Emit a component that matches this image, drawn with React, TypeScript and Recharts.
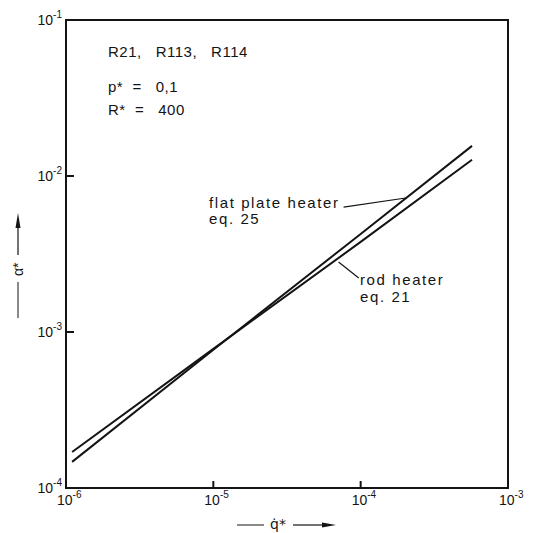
import React from "react";
import { LineChart, Line, XAxis, YAxis, ReferenceArea, ReferenceLine } from "recharts";

// Heat flux q* (x)
const qValues = [1.1e-6, 1e-5, 1e-4, 5.7e-4];
// alpha* for the flat plate heater (eq. 25)
const flatPlate = [1.47e-4, 7.7e-4, 4.25e-3, 1.56e-2];
// alpha* for the rod heater (eq. 21)
const rodHeater = [1.7e-4, 7.8e-4, 3.78e-3, 1.27e-2];

const xTicks = [1e-6, 1e-5, 1e-4, 1e-3];
const xTickExp = ["-6", "-5", "-4", "-3"];
const yTicks = [1e-4, 1e-3, 1e-2, 1e-1];
const yTickExp = ["-4", "-3", "-2", "-1"];

// leader lines of the labels (data coordinates)
const flatLeader = [
  { x: 7.66e-5, y: 6.32e-3 },
  { x: 2.02e-4, y: 7.23e-3 },
];
const rodLeader = [
  { x: 7.08e-5, y: 2.81e-3 },
  { x: 9.7e-5, y: 2.22e-3 },
];

const data = qValues.map((q, i) => ({ q, flat: flatPlate[i], rod: rodHeater[i] }));

const INK = "#141414";
const FONT = "'Liberation Sans', Arial, sans-serif";

const XTick = (props: any) => {
  const { x, y, payload } = props;
  const idx = xTicks.indexOf(payload.value);
  const inner = idx > 0 && idx < xTicks.length - 1;
  return (
    <g>
      {inner && (
        <path d={`M${x},${y} L${x},${y - 7}`} stroke={INK} strokeWidth={2} fill="none" />
      )}
      <text x={x - 9} y={y + 17} fontSize={14} fontFamily={FONT} fill={INK}>
        <tspan>10</tspan>
        <tspan dy={-7} fontSize={10}>{xTickExp[idx]}</tspan>
      </text>
    </g>
  );
};

const YTick = (props: any) => {
  const { x, y, payload } = props;
  const idx = yTicks.indexOf(payload.value);
  const inner = idx > 0 && idx < yTicks.length - 1;
  return (
    <g>
      {inner && (
        <path d={`M${x},${y} L${x + 8},${y}`} stroke={INK} strokeWidth={2} fill="none" />
      )}
      <text x={x - 4} y={y + 5} textAnchor="end" fontSize={14} fontFamily={FONT} fill={INK}>
        <tspan>10</tspan>
        <tspan dy={-7} fontSize={10}>{yTickExp[idx]}</tspan>
      </text>
    </g>
  );
};

export default function App() {
  return (
    <div style={{ position: "absolute", left: 0, top: 0, background: "#fff" }}>
      <LineChart
        width={533}
        height={533}
        data={data}
        margin={{ top: 20, right: 25, bottom: 0, left: 0 }}
      >
        <XAxis
          dataKey="q"
          type="number"
          scale="log"
          domain={[1e-6, 1e-3]}
          ticks={xTicks}
          height={45}
          tickSize={0}
          tickMargin={0}
          tick={<XTick />}
          tickLine={false}
          axisLine={{ stroke: INK, strokeWidth: 2 }}
          allowDataOverflow
        />
        <YAxis
          type="number"
          scale="log"
          domain={[1e-4, 1e-1]}
          ticks={yTicks}
          width={66}
          tickSize={0}
          tickMargin={0}
          tick={<YTick />}
          tickLine={false}
          axisLine={{ stroke: INK, strokeWidth: 2 }}
          allowDataOverflow
        />
        <ReferenceArea
          x1={1e-6}
          x2={1e-3}
          y1={1e-4}
          y2={1e-1}
          fill="none"
          fillOpacity={0}
          stroke={INK}
          strokeWidth={2}
          ifOverflow="visible"
        />
        <Line
          dataKey="flat"
          type="linear"
          stroke={INK}
          strokeWidth={2}
          dot={false}
          isAnimationActive={false}
        />
        <Line
          dataKey="rod"
          type="linear"
          stroke={INK}
          strokeWidth={2}
          dot={false}
          isAnimationActive={false}
        />
        <ReferenceLine segment={flatLeader} stroke={INK} strokeWidth={1.2} ifOverflow="visible" />
        <ReferenceLine segment={rodLeader} stroke={INK} strokeWidth={1.2} ifOverflow="visible" />

        <g fontFamily={FONT} fill={INK} fontSize={15} letterSpacing={0.5}>
          <text x={108} y={57} xmlSpace="preserve">R21,   R113,   R114</text>
          <text x={108} y={92} xmlSpace="preserve">p*  =   0,1</text>
          <text x={108} y={115} xmlSpace="preserve">R*  =   400</text>
        </g>
        <g fontFamily={FONT} fill={INK} fontSize={15} letterSpacing={1.6}>
          <text x={209} y={208}>flat plate heater</text>
          <text x={209} y={224}>eq. 25</text>
          <text x={360} y={285}>rod heater</text>
          <text x={360} y={302}>eq. 21</text>
        </g>

        {/* x-axis title: —— q̇* ——→ */}
        <g stroke={INK} fill={INK}>
          <line x1={237} y1={525} x2={264} y2={525} strokeWidth={1} />
          <line x1={293} y1={525} x2={324} y2={525} strokeWidth={1.2} />
          <polygon points="322,522.5 336,525 322,527.5" stroke="none" />
          <text x={270} y={529} stroke="none" fontSize={14} fontFamily="'DejaVu Sans', sans-serif">
            {"q\u0307*"}
          </text>
        </g>

        {/* y-axis title: —— α* ——→ (rotated) */}
        <g stroke={INK} fill={INK}>
          <line x1={18} y1={318} x2={18} y2={282} strokeWidth={1} />
          <line x1={18} y1={255} x2={18} y2={226} strokeWidth={1.2} />
          <polygon points="15.5,228 18,213 20.5,228" stroke="none" />
          <text x={0} y={0} stroke="none" fontSize={14} fontFamily={FONT} transform="translate(23 276) rotate(-90)">
            α*
          </text>
        </g>
      </LineChart>
    </div>
  );
}
